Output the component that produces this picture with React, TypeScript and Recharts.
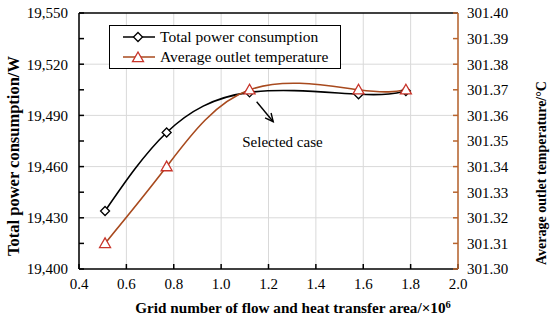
import React from "react";
import { CartesianGrid, Label, Legend, Line, LineChart, ReferenceDot, ReferenceLine, XAxis, YAxis } from "recharts";

const gridSize = [0.51, 0.77, 1.12, 1.58, 1.78];
const powerW = [19434, 19480, 19503.5, 19502.4, 19504.3];
const outletTemp = [301.31, 301.34, 301.37, 301.37, 301.37];

const seriesNames = ["Total power consumption", "Average outlet temperature"];
const xTicks = [0.4, 0.6, 0.8, 1.0, 1.2, 1.4, 1.6, 1.8, 2.0];
const powerTicks = [19400, 19415, 19430, 19445, 19460, 19475, 19490, 19505, 19520, 19535, 19550];
const powerGrid = [19430, 19460, 19490, 19520];
const tempTicks = [301.3, 301.31, 301.32, 301.33, 301.34, 301.35, 301.36, 301.37, 301.38, 301.39, 301.4];

const arrowFrom = { x: 1.15, y: 19498 };
const arrowTo = { x: 1.22, y: 19486.3 };
const notePos = { x: 1.259, y: 19474.6, text: "Selected case" };

const data = gridSize.map((x, i) => ({ x, power: powerW[i], temp: outletTemp[i] }));

const font = "Liberation Serif, DejaVu Serif, serif";
const brown = "#a84a1e";
const red = "#c8342a";
const axisBrown = "#b8642e";

function Diamond({ cx, cy }: { cx?: number; cy?: number }) {
  if (cx == null || cy == null) return null;
  const s = 4.5;
  return (
    <path
      d={`M${cx},${cy - s}L${cx + s},${cy}L${cx},${cy + s}L${cx - s},${cy}Z`}
      fill="#fff"
      stroke="#000"
      strokeWidth={1.3}
    />
  );
}

function Triangle({ cx, cy }: { cx?: number; cy?: number }) {
  if (cx == null || cy == null) return null;
  const s = 5.5;
  return (
    <path
      d={`M${cx},${cy - s}L${cx + s},${cy + s * 0.75}L${cx - s},${cy + s * 0.75}Z`}
      fill="#fff"
      stroke={red}
      strokeWidth={1.3}
    />
  );
}

function ArrowShape(props: any) {
  const { x1, y1, x2, y2 } = props;
  if ([x1, y1, x2, y2].some((v) => typeof v !== "number")) return null;
  const ang = Math.atan2(y2 - y1, x2 - x1);
  const len = 9;
  const a1 = ang + Math.PI - 0.45;
  const a2 = ang + Math.PI + 0.45;
  return (
    <g stroke="#000" strokeWidth={1.4} fill="none">
      <line x1={x1} y1={y1} x2={x2} y2={y2} />
      <polyline
        points={`${x2 + len * Math.cos(a1)},${y2 + len * Math.sin(a1)} ${x2},${y2} ${x2 + len * Math.cos(a2)},${y2 + len * Math.sin(a2)}`}
      />
    </g>
  );
}

function LegendBox() {
  return (
    <div
      style={{
        border: "1.5px solid #000",
        background: "#fff",
        padding: "1px 0 2px 12px",
        fontFamily: font,
        fontSize: 15.5,
        color: "#000",
        boxSizing: "border-box",
        width: 232,
        height: 44,
      }}
    >
      {seriesNames.map((name, i) => (
        <div key={name} style={{ display: "flex", alignItems: "center", height: 20 }}>
          <svg width={34} height={14} style={{ marginRight: 4 }}>
            <line x1={1} x2={33} y1={7} y2={7} stroke={i === 0 ? "#000" : brown} strokeWidth={1.5} />
            {i === 0 ? <Diamond cx={16} cy={7} /> : <Triangle cx={16} cy={7.5} />}
          </svg>
          <span>{name}</span>
        </div>
      ))}
    </div>
  );
}

export default function App() {
  return (
    <div style={{ position: "absolute", left: 0, top: 0, background: "#fff" }}>
      <LineChart width={550} height={321} data={data} margin={{ top: 13, right: 0, bottom: 0, left: 0 }}>
        <CartesianGrid horizontal={false} stroke="#d9d9d9" strokeWidth={1} />
        {powerGrid.map((v) => (
          <ReferenceLine key={v} yAxisId="power" y={v} stroke="#d9d9d9" strokeWidth={1} />
        ))}
        <ReferenceLine yAxisId="power" y={19550} stroke="#000" strokeWidth={1.5} />
        <XAxis
          type="number"
          dataKey="x"
          domain={[0.4, 2.0]}
          ticks={xTicks}
          tickFormatter={(v) => Number(v).toFixed(1)}
          height={52}
          tickSize={-5}
          tickMargin={14}
          stroke="#000"
          strokeWidth={1.5}
          tick={{ fill: "#000", fontFamily: font, fontSize: 15 }}
        >
          <Label
            content={() => (
              <text x={293} y={313} textAnchor="middle" fontFamily={font} fontSize={15.2} fontWeight="bold" fill="#000">
                Grid number of flow and heat transfer area/×10
                <tspan dy={-5} fontSize={10.5}>6</tspan>
              </text>
            )}
          />
        </XAxis>
        <YAxis
          yAxisId="power"
          orientation="left"
          domain={[19400, 19550]}
          ticks={powerTicks}
          tickFormatter={(v) => (((v - 19400) % 30 === 0) ? Number(v).toLocaleString("en-US") : "")}
          width={79}
          tickSize={-5}
          tickMargin={16}
          stroke="#000"
          strokeWidth={1.5}
          interval={0}
          tick={{ fill: "#000", fontFamily: font, fontSize: 15 }}
        >
          <Label
            content={() => (
              <text
                x={13}
                y={156}
                transform="rotate(-90 13 156)"
                textAnchor="middle"
                dominantBaseline="central"
                fontFamily={font}
                fontSize={16.5}
                fontWeight="bold"
                fill="#000"
              >
                Total power consumption/W
              </text>
            )}
          />
        </YAxis>
        <YAxis
          yAxisId="temp"
          orientation="right"
          domain={[301.3, 301.4]}
          ticks={tempTicks}
          tickFormatter={(v) => Number(v).toFixed(2)}
          width={92}
          tickSize={-5}
          tickMargin={14}
          stroke={axisBrown}
          strokeWidth={1.5}
          interval={0}
          tick={{ fill: "#000", fontFamily: font, fontSize: 15 }}
        >
          <Label
            content={() => (
              <text
                x={541}
                y={173}
                transform="rotate(-90 541 173)"
                textAnchor="middle"
                dominantBaseline="central"
                fontFamily={font}
                fontSize={14}
                fontWeight="bold"
                fill="#000"
              >
                Average outlet temperature/°C
              </text>
            )}
          />
        </YAxis>
        <Legend
          layout="vertical"
          align="center"
          verticalAlign="middle"
          content={() => <LegendBox />}
          wrapperStyle={{ left: 109, top: 25, width: 232, height: 44 }}
        />
        <Line
          yAxisId="power"
          dataKey="power"
          name={seriesNames[0]}
          type="natural"
          stroke="#000"
          strokeWidth={1.6}
          dot={(p: any) => <Diamond key={`d${p.index}`} cx={p.cx} cy={p.cy} />}
          activeDot={false}
          isAnimationActive={false}
        />
        <Line
          yAxisId="temp"
          dataKey="temp"
          name={seriesNames[1]}
          type="natural"
          stroke={brown}
          strokeWidth={1.6}
          dot={(p: any) => <Triangle key={`t${p.index}`} cx={p.cx} cy={p.cy} />}
          activeDot={false}
          isAnimationActive={false}
        />
        <ReferenceLine
          yAxisId="power"
          segment={[arrowFrom, arrowTo]}
          shape={(p: any) => <ArrowShape {...p} />}
        />
        <ReferenceDot
          yAxisId="power"
          x={notePos.x}
          y={notePos.y}
          r={0}
          fill="none"
          stroke="none"
          label={{ value: notePos.text, position: "center", fill: "#000", fontFamily: font, fontSize: 15 }}
        />
      </LineChart>
    </div>
  );
}
